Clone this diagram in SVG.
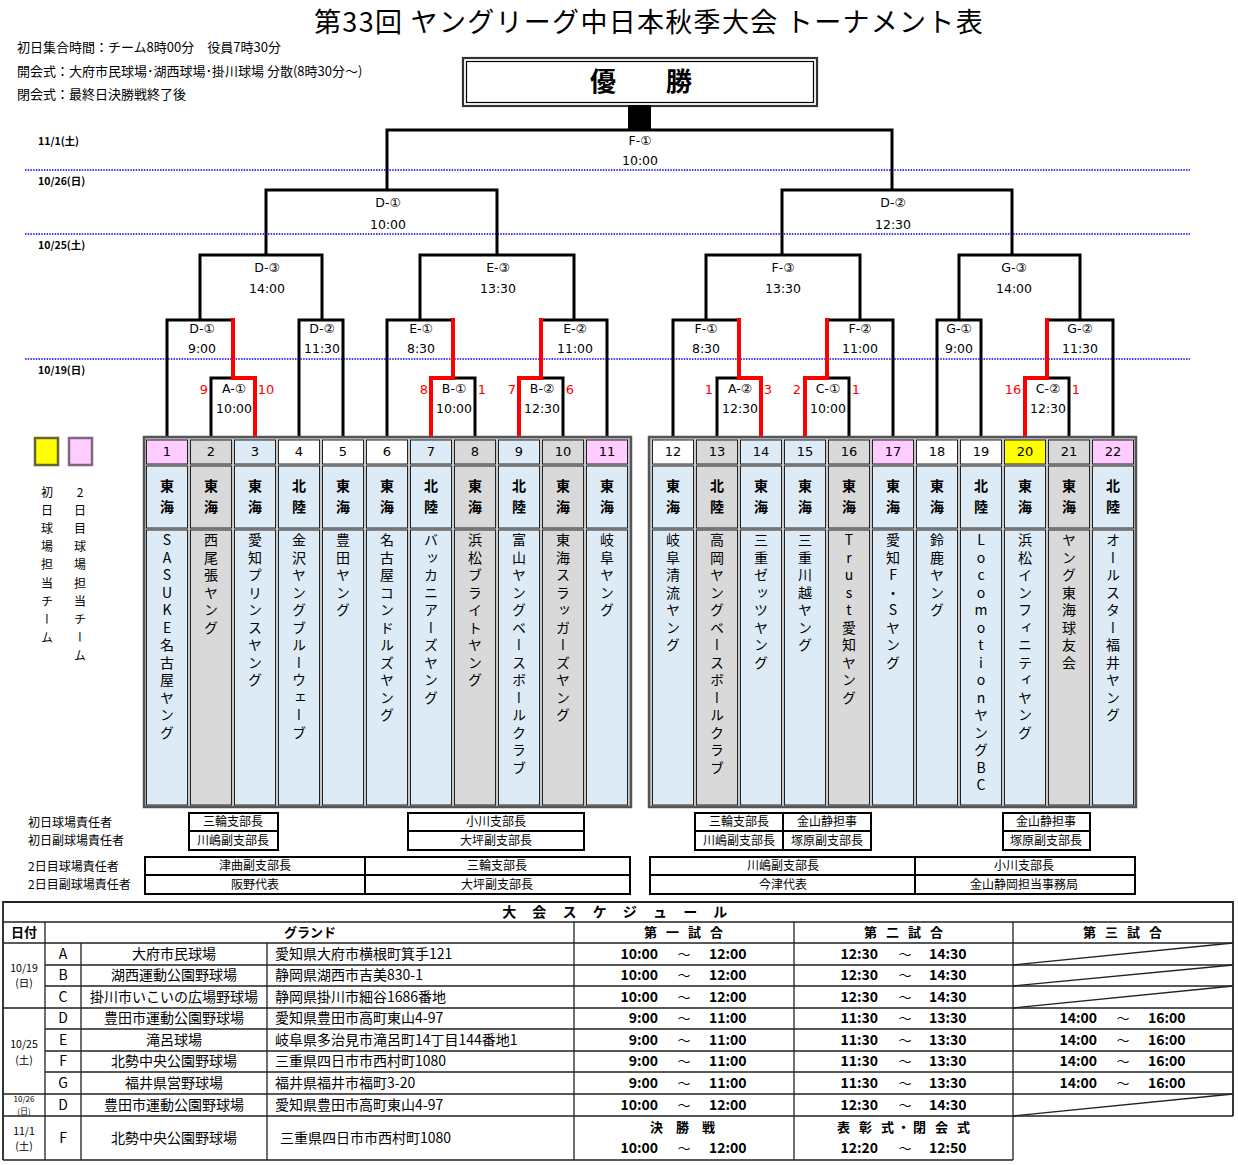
<svg xmlns="http://www.w3.org/2000/svg" width="1238" height="1165" viewBox="0 0 1238 1165">
<style>
text{font-family:"Noto Sans CJK JP","Noto Sans",sans-serif;fill:#000}
.ttl{font-size:27px;text-anchor:middle;letter-spacing:1.3px}
.hd{font-size:13px}
.dt{font-size:10.5px;font-weight:bold}
.lb{font-family:"DejaVu Sans","Noto Sans CJK JP",sans-serif;font-size:12.5px;text-anchor:middle}
.rn{font-family:"DejaVu Sans","Noto Sans CJK JP",sans-serif;font-size:13px;fill:#f00;text-anchor:middle}
.ln{fill:none;stroke:#000;stroke-width:3;stroke-linejoin:miter}
.rd{fill:none;stroke:#f00;stroke-width:4;stroke-linejoin:miter}
.dot{stroke:#00f;stroke-width:1.3;stroke-dasharray:1.5 1.2}
.frame{fill:#c8c8c8;stroke:#555;stroke-width:2.5}
.c{stroke:#222;stroke-width:1}
.lbc{fill:#ddebf7}.gy{fill:#d9d9d9}.wh{fill:#fff}.pk{fill:#ffccff}.ye{fill:#ffff00}
.num{font-family:"DejaVu Sans","Noto Sans CJK JP",sans-serif;font-size:13px;text-anchor:middle}
.rg{font-size:14px;font-weight:bold;text-anchor:middle}
.vt{font-size:14px;writing-mode:vertical-rl;text-orientation:upright;letter-spacing:3.5px}
.lg{font-size:12px;writing-mode:vertical-rl;text-orientation:upright;letter-spacing:6.2px}
.bx{fill:#fff;stroke:#000;stroke-width:2}
.rs{font-size:12px;text-anchor:middle}
.rl{font-size:12px}
.tb{fill:none;stroke:#222;stroke-width:1.3}
.tbo{fill:none;stroke:#222;stroke-width:1.8}
.sn{font-size:14px;text-anchor:middle}
.sa{font-size:14px}
.sh{font-size:13px;font-weight:bold;text-anchor:middle}
.tm{font-family:"DejaVu Sans",sans-serif;font-size:14px;font-weight:bold}
.tl{font-family:"Noto Sans CJK JP",sans-serif;font-size:13px;text-anchor:middle}
.sd{font-size:10.5px;text-anchor:middle}
</style>

<!-- header -->
<g id="header">
<text class="ttl" x="649" y="32">第33回 ヤングリーグ中日本秋季大会 トーナメント表</text>
<text class="hd" x="17" y="52">初日集合時間：チーム8時00分　役員7時30分</text>
<text class="hd" x="17" y="76">開会式：大府市民球場･湖西球場･掛川球場 分散(8時30分～)</text>
<text class="hd" x="17" y="99">閉会式：最終日決勝戦終了後</text>
</g>

<!-- date rows -->
<g id="dates">
<text class="dt" x="38" y="145">11/1(土)</text>
<text class="dt" x="38" y="185">10/26(日)</text>
<text class="dt" x="38" y="249">10/25(土)</text>
<text class="dt" x="38" y="374">10/19(日)</text>
<line class="dot" x1="25" y1="170" x2="1190" y2="170"/>
<line class="dot" x1="25" y1="234" x2="1190" y2="234"/>
<line class="dot" x1="25" y1="359" x2="1190" y2="359"/>
</g>

<!-- champion -->
<g id="champion">
<rect x="463" y="58" width="354" height="48" fill="#fff" stroke="#333" stroke-width="2.2"/>
<rect x="466.5" y="61.5" width="347" height="41" fill="none" stroke="#000" stroke-width="1.2"/>
<text x="603" y="91" font-size="26" font-weight="bold" text-anchor="middle">優</text>
<text x="679" y="91" font-size="26" font-weight="bold" text-anchor="middle">勝</text>
<rect x="628" y="105" width="23" height="25" fill="#000"/>
</g>

<!-- connectors -->
<g id="connectors">
<path class="ln" d="M387,190 V130 H892 V190"/>
<path class="ln" d="M266,255 V190 H497 V255"/>
<path class="ln" d="M782,255 V190 H1012 V255"/>
<path class="ln" d="M200,320 V255 H322 V320"/>
<path class="ln" d="M420,320 V255 H574 V320"/>
<path class="ln" d="M706,320 V255 H860 V320"/>
<path class="ln" d="M959,320 V255 H1080 V320"/>
<path class="ln" d="M167,437 V320 H233"/>
<path class="ln" d="M211,437 V378 H233"/>
<path class="ln" d="M299,437 V320 H343 V437"/>
<path class="ln" d="M387,437 V320 H453"/>
<path class="ln" d="M453,378 H475 V437"/>
<path class="ln" d="M541,320 H607 V437"/>
<path class="ln" d="M541,378 H563 V437"/>
<path class="ln" d="M673,437 V320 H739"/>
<path class="ln" d="M717,437 V378 H739"/>
<path class="ln" d="M827,320 H893 V437"/>
<path class="ln" d="M827,378 H849 V437"/>
<path class="ln" d="M937,437 V320 H981 V437"/>
<path class="ln" d="M1047,320 H1113 V437"/>
<path class="ln" d="M1047,378 H1069 V437"/>
<path class="rd" d="M233,318 V378 H255 V437"/>
<path class="rd" d="M453,318 V378 H431 V437"/>
<path class="rd" d="M541,318 V378 H519 V437"/>
<path class="rd" d="M739,318 V378 H761 V437"/>
<path class="rd" d="M827,318 V378 H805 V437"/>
<path class="rd" d="M1047,318 V378 H1025 V437"/>
</g>

<!-- match labels -->
<g id="m-F1"><text class="lb" x="640" y="145">F-①</text><text class="lb" x="640" y="165">10:00</text></g>
<g id="m-D1"><text class="lb" x="388" y="207">D-①</text><text class="lb" x="388" y="229">10:00</text></g>
<g id="m-D2"><text class="lb" x="893" y="207">D-②</text><text class="lb" x="893" y="229">12:30</text></g>
<g id="m-D3"><text class="lb" x="267" y="272">D-③</text><text class="lb" x="267" y="293">14:00</text></g>
<g id="m-E3"><text class="lb" x="498" y="272">E-③</text><text class="lb" x="498" y="293">13:30</text></g>
<g id="m-F3"><text class="lb" x="783" y="272">F-③</text><text class="lb" x="783" y="293">13:30</text></g>
<g id="m-G3"><text class="lb" x="1014" y="272">G-③</text><text class="lb" x="1014" y="293">14:00</text></g>
<g id="m-D1a"><text class="lb" x="202" y="333">D-①</text><text class="lb" x="202" y="353">9:00</text></g>
<g id="m-D2a"><text class="lb" x="322" y="333">D-②</text><text class="lb" x="322" y="353">11:30</text></g>
<g id="m-E1"><text class="lb" x="421" y="333">E-①</text><text class="lb" x="421" y="353">8:30</text></g>
<g id="m-E2"><text class="lb" x="575" y="333">E-②</text><text class="lb" x="575" y="353">11:00</text></g>
<g id="m-F1a"><text class="lb" x="706" y="333">F-①</text><text class="lb" x="706" y="353">8:30</text></g>
<g id="m-F2"><text class="lb" x="860" y="333">F-②</text><text class="lb" x="860" y="353">11:00</text></g>
<g id="m-G1"><text class="lb" x="959" y="333">G-①</text><text class="lb" x="959" y="353">9:00</text></g>
<g id="m-G2"><text class="lb" x="1080" y="333">G-②</text><text class="lb" x="1080" y="353">11:30</text></g>
<g id="m-A1"><text class="lb" x="234" y="393">A-①</text><text class="lb" x="234" y="413">10:00</text><text class="rn" x="204" y="394">9</text><text class="rn" x="266" y="394">10</text></g>
<g id="m-B1"><text class="lb" x="454" y="393">B-①</text><text class="lb" x="454" y="413">10:00</text><text class="rn" x="424" y="394">8</text><text class="rn" x="482" y="394">1</text></g>
<g id="m-B2"><text class="lb" x="542" y="393">B-②</text><text class="lb" x="542" y="413">12:30</text><text class="rn" x="512" y="394">7</text><text class="rn" x="570" y="394">6</text></g>
<g id="m-A2"><text class="lb" x="740" y="393">A-②</text><text class="lb" x="740" y="413">12:30</text><text class="rn" x="709" y="394">1</text><text class="rn" x="768" y="394">3</text></g>
<g id="m-C1"><text class="lb" x="828" y="393">C-①</text><text class="lb" x="828" y="413">10:00</text><text class="rn" x="797" y="394">2</text><text class="rn" x="856" y="394">1</text></g>
<g id="m-C2"><text class="lb" x="1048" y="393">C-②</text><text class="lb" x="1048" y="413">12:30</text><text class="rn" x="1013" y="394">16</text><text class="rn" x="1076" y="394">1</text></g>

<!-- legend -->
<g id="legend">
<rect x="35" y="438" width="23" height="27" class="ye" stroke="#666633" stroke-width="2.5"/>
<rect x="69" y="438" width="23" height="27" class="pk" stroke="#806680" stroke-width="2.5"/>
<text class="lg" x="47" y="486">初日球場担当チーム</text>
<text class="lg" x="80" y="486">2日目球場担当チーム</text>
</g>

<!-- team frames -->
<rect class="frame" x="144" y="437" width="487" height="370"/>
<rect class="frame" x="649" y="437" width="487" height="370"/>

<g id="t1"><rect class="c pk" x="146.5" y="440" width="41" height="24"/><rect class="c lbc" x="146.5" y="466" width="41" height="62"/><rect class="c lbc" x="146.5" y="530" width="41" height="275"/><text class="num" x="167" y="456">1</text><text class="rg" x="167" y="491">東</text><text class="rg" x="167" y="512">海</text><text class="vt" x="167" y="533">SASUKE名古屋ヤング</text></g>
<g id="t2"><rect class="c gy" x="190.5" y="440" width="41" height="24"/><rect class="c gy" x="190.5" y="466" width="41" height="62"/><rect class="c gy" x="190.5" y="530" width="41" height="275"/><text class="num" x="211" y="456">2</text><text class="rg" x="211" y="491">東</text><text class="rg" x="211" y="512">海</text><text class="vt" x="211" y="533">西尾張ヤング</text></g>
<g id="t3"><rect class="c lbc" x="234.5" y="440" width="41" height="24"/><rect class="c lbc" x="234.5" y="466" width="41" height="62"/><rect class="c lbc" x="234.5" y="530" width="41" height="275"/><text class="num" x="255" y="456">3</text><text class="rg" x="255" y="491">東</text><text class="rg" x="255" y="512">海</text><text class="vt" x="255" y="533">愛知プリンスヤング</text></g>
<g id="t4"><rect class="c wh" x="278.5" y="440" width="41" height="24"/><rect class="c lbc" x="278.5" y="466" width="41" height="62"/><rect class="c lbc" x="278.5" y="530" width="41" height="275"/><text class="num" x="299" y="456">4</text><text class="rg" x="299" y="491">北</text><text class="rg" x="299" y="512">陸</text><text class="vt" x="299" y="533">金沢ヤングブルーウェーブ</text></g>
<g id="t5"><rect class="c wh" x="322.5" y="440" width="41" height="24"/><rect class="c lbc" x="322.5" y="466" width="41" height="62"/><rect class="c lbc" x="322.5" y="530" width="41" height="275"/><text class="num" x="343" y="456">5</text><text class="rg" x="343" y="491">東</text><text class="rg" x="343" y="512">海</text><text class="vt" x="343" y="533">豊田ヤング</text></g>
<g id="t6"><rect class="c wh" x="366.5" y="440" width="41" height="24"/><rect class="c lbc" x="366.5" y="466" width="41" height="62"/><rect class="c lbc" x="366.5" y="530" width="41" height="275"/><text class="num" x="387" y="456">6</text><text class="rg" x="387" y="491">東</text><text class="rg" x="387" y="512">海</text><text class="vt" x="387" y="533">名古屋コンドルズヤング</text></g>
<g id="t7"><rect class="c lbc" x="410.5" y="440" width="41" height="24"/><rect class="c lbc" x="410.5" y="466" width="41" height="62"/><rect class="c lbc" x="410.5" y="530" width="41" height="275"/><text class="num" x="431" y="456">7</text><text class="rg" x="431" y="491">北</text><text class="rg" x="431" y="512">陸</text><text class="vt" x="431" y="533">バッカニアーズヤング</text></g>
<g id="t8"><rect class="c gy" x="454.5" y="440" width="41" height="24"/><rect class="c gy" x="454.5" y="466" width="41" height="62"/><rect class="c gy" x="454.5" y="530" width="41" height="275"/><text class="num" x="475" y="456">8</text><text class="rg" x="475" y="491">東</text><text class="rg" x="475" y="512">海</text><text class="vt" x="475" y="533">浜松ブライトヤング</text></g>
<g id="t9"><rect class="c lbc" x="498.5" y="440" width="41" height="24"/><rect class="c lbc" x="498.5" y="466" width="41" height="62"/><rect class="c lbc" x="498.5" y="530" width="41" height="275"/><text class="num" x="519" y="456">9</text><text class="rg" x="519" y="491">北</text><text class="rg" x="519" y="512">陸</text><text class="vt" x="519" y="533">富山ヤングベースボールクラブ</text></g>
<g id="t10"><rect class="c gy" x="542.5" y="440" width="41" height="24"/><rect class="c gy" x="542.5" y="466" width="41" height="62"/><rect class="c gy" x="542.5" y="530" width="41" height="275"/><text class="num" x="563" y="456">10</text><text class="rg" x="563" y="491">東</text><text class="rg" x="563" y="512">海</text><text class="vt" x="563" y="533">東海スラッガーズヤング</text></g>
<g id="t11"><rect class="c pk" x="586.5" y="440" width="41" height="24"/><rect class="c lbc" x="586.5" y="466" width="41" height="62"/><rect class="c lbc" x="586.5" y="530" width="41" height="275"/><text class="num" x="607" y="456">11</text><text class="rg" x="607" y="491">東</text><text class="rg" x="607" y="512">海</text><text class="vt" x="607" y="533">岐阜ヤング</text></g>

<g id="t12"><rect class="c wh" x="652.5" y="440" width="41" height="24"/><rect class="c lbc" x="652.5" y="466" width="41" height="62"/><rect class="c lbc" x="652.5" y="530" width="41" height="275"/><text class="num" x="673" y="456">12</text><text class="rg" x="673" y="491">東</text><text class="rg" x="673" y="512">海</text><text class="vt" x="673" y="533">岐阜清流ヤング</text></g>
<g id="t13"><rect class="c gy" x="696.5" y="440" width="41" height="24"/><rect class="c gy" x="696.5" y="466" width="41" height="62"/><rect class="c gy" x="696.5" y="530" width="41" height="275"/><text class="num" x="717" y="456">13</text><text class="rg" x="717" y="491">北</text><text class="rg" x="717" y="512">陸</text><text class="vt" x="717" y="533">高岡ヤングベースボールクラブ</text></g>
<g id="t14"><rect class="c lbc" x="740.5" y="440" width="41" height="24"/><rect class="c lbc" x="740.5" y="466" width="41" height="62"/><rect class="c lbc" x="740.5" y="530" width="41" height="275"/><text class="num" x="761" y="456">14</text><text class="rg" x="761" y="491">東</text><text class="rg" x="761" y="512">海</text><text class="vt" x="761" y="533">三重ゼッツヤング</text></g>
<g id="t15"><rect class="c lbc" x="784.5" y="440" width="41" height="24"/><rect class="c lbc" x="784.5" y="466" width="41" height="62"/><rect class="c lbc" x="784.5" y="530" width="41" height="275"/><text class="num" x="805" y="456">15</text><text class="rg" x="805" y="491">東</text><text class="rg" x="805" y="512">海</text><text class="vt" x="805" y="533">三重川越ヤング</text></g>
<g id="t16"><rect class="c gy" x="828.5" y="440" width="41" height="24"/><rect class="c gy" x="828.5" y="466" width="41" height="62"/><rect class="c gy" x="828.5" y="530" width="41" height="275"/><text class="num" x="849" y="456">16</text><text class="rg" x="849" y="491">東</text><text class="rg" x="849" y="512">海</text><text class="vt" x="849" y="533">Trust愛知ヤング</text></g>
<g id="t17"><rect class="c pk" x="872.5" y="440" width="41" height="24"/><rect class="c lbc" x="872.5" y="466" width="41" height="62"/><rect class="c lbc" x="872.5" y="530" width="41" height="275"/><text class="num" x="893" y="456">17</text><text class="rg" x="893" y="491">東</text><text class="rg" x="893" y="512">海</text><text class="vt" x="893" y="533">愛知F・Sヤング</text></g>
<g id="t18"><rect class="c wh" x="916.5" y="440" width="41" height="24"/><rect class="c lbc" x="916.5" y="466" width="41" height="62"/><rect class="c lbc" x="916.5" y="530" width="41" height="275"/><text class="num" x="937" y="456">18</text><text class="rg" x="937" y="491">東</text><text class="rg" x="937" y="512">海</text><text class="vt" x="937" y="533">鈴鹿ヤング</text></g>
<g id="t19"><rect class="c wh" x="960.5" y="440" width="41" height="24"/><rect class="c lbc" x="960.5" y="466" width="41" height="62"/><rect class="c lbc" x="960.5" y="530" width="41" height="275"/><text class="num" x="981" y="456">19</text><text class="rg" x="981" y="491">北</text><text class="rg" x="981" y="512">陸</text><text class="vt" x="981" y="533">LocomotionヤングBC</text></g>
<g id="t20"><rect class="c ye" x="1004.5" y="440" width="41" height="24"/><rect class="c lbc" x="1004.5" y="466" width="41" height="62"/><rect class="c lbc" x="1004.5" y="530" width="41" height="275"/><text class="num" x="1025" y="456">20</text><text class="rg" x="1025" y="491">東</text><text class="rg" x="1025" y="512">海</text><text class="vt" x="1025" y="533">浜松インフィニティヤング</text></g>
<g id="t21"><rect class="c gy" x="1048.5" y="440" width="41" height="24"/><rect class="c gy" x="1048.5" y="466" width="41" height="62"/><rect class="c gy" x="1048.5" y="530" width="41" height="275"/><text class="num" x="1069" y="456">21</text><text class="rg" x="1069" y="491">東</text><text class="rg" x="1069" y="512">海</text><text class="vt" x="1069" y="533">ヤング東海球友会</text></g>
<g id="t22"><rect class="c pk" x="1092.5" y="440" width="41" height="24"/><rect class="c lbc" x="1092.5" y="466" width="41" height="62"/><rect class="c lbc" x="1092.5" y="530" width="41" height="275"/><text class="num" x="1113" y="456">22</text><text class="rg" x="1113" y="491">北</text><text class="rg" x="1113" y="512">陸</text><text class="vt" x="1113" y="533">オールスター福井ヤング</text></g>

<!-- responsibility -->
<g id="resp-labels">
<text class="rl" x="28" y="827">初日球場責任者</text>
<text class="rl" x="28" y="845">初日副球場責任者</text>
<text class="rl" x="28" y="871">2日目球場責任者</text>
<text class="rl" x="28" y="889">2日目副球場責任者</text>
</g>
<g id="resp-1">
<rect class="bx" x="189" y="813" width="89" height="18"/><rect class="bx" x="189" y="831" width="89" height="19"/>
<text class="rs" x="233" y="826">三輪支部長</text><text class="rs" x="233" y="845">川嶋副支部長</text>
</g>
<g id="resp-2">
<rect class="bx" x="408" y="813" width="176" height="18"/><rect class="bx" x="408" y="831" width="176" height="19"/>
<text class="rs" x="496" y="826">小川支部長</text><text class="rs" x="496" y="845">大坪副支部長</text>
</g>
<g id="resp-3">
<rect class="bx" x="145" y="857" width="220" height="18"/><rect class="bx" x="365" y="857" width="265" height="18"/>
<rect class="bx" x="145" y="875" width="220" height="19"/><rect class="bx" x="365" y="875" width="265" height="19"/>
<text class="rs" x="255" y="870">津曲副支部長</text><text class="rs" x="497" y="870">三輪支部長</text>
<text class="rs" x="255" y="889">阪野代表</text><text class="rs" x="497" y="889">大坪副支部長</text>
</g>
<g id="resp-4">
<rect class="bx" x="695" y="813" width="88" height="18"/><rect class="bx" x="783" y="813" width="88" height="18"/>
<rect class="bx" x="695" y="831" width="88" height="19"/><rect class="bx" x="783" y="831" width="88" height="19"/>
<text class="rs" x="739" y="826">三輪支部長</text><text class="rs" x="827" y="826">金山静担事</text>
<text class="rs" x="739" y="845">川嶋副支部長</text><text class="rs" x="827" y="845">塚原副支部長</text>
</g>
<g id="resp-5">
<rect class="bx" x="1003" y="813" width="87" height="18"/><rect class="bx" x="1003" y="831" width="87" height="19"/>
<text class="rs" x="1046" y="826">金山静担事</text><text class="rs" x="1046" y="845">塚原副支部長</text>
</g>
<g id="resp-6">
<rect class="bx" x="650" y="857" width="265" height="18"/><rect class="bx" x="915" y="857" width="220" height="18"/>
<rect class="bx" x="650" y="875" width="265" height="19"/><rect class="bx" x="915" y="875" width="220" height="19"/>
<text class="rs" x="783" y="870">川嶋副支部長</text><text class="rs" x="1024" y="870">小川支部長</text>
<text class="rs" x="783" y="889">今津代表</text><text class="rs" x="1024" y="889">金山静岡担当事務局</text>
</g>

<!-- schedule table -->
<g id="schedule">
<path class="tb" d="M3,922 H1233 M3,943 H1233 M45,965 H1233 M45,986 H1233 M3,1008 H1233 M45,1029 H1233 M45,1051 H1233 M45,1072 H1233 M3,1094 H1233 M3,1116 H1233 M3,1160 H1013"/>
<path class="tb" d="M45,922 V1160 M81,943 V1160 M267,943 V1160 M574,922 V1160 M794,922 V1160 M1013,922 V1160"/>
<path class="tbo" d="M1233,1116 V902 H3 V1160"/>
<path class="tb" d="M1013,965 L1233,943 M1013,986 L1233,965 M1013,1008 L1233,986 M1013,1116 L1233,1094"/>
<text x="618" y="917" font-size="14" font-weight="bold" text-anchor="middle" letter-spacing="6.5">大 会 ス ケ ジ ュ ー ル</text>
<text class="sh" x="24" y="937">日付</text>
<text class="sh" x="310" y="937">グランド</text>
<text class="sh" x="685" y="937" letter-spacing="3">第 一 試 合</text>
<text class="sh" x="905" y="937" letter-spacing="3">第 二 試 合</text>
<text class="sh" x="1124" y="937" letter-spacing="3">第 三 試 合</text>

<text class="sd" x="24" y="972">10/19</text><text class="sd" x="24" y="987">(日)</text>
<text class="sd" x="24" y="1048">10/25</text><text class="sd" x="24" y="1064">(土)</text>
<text x="24" y="1102" font-size="8" text-anchor="middle">10/26</text><text x="24" y="1114" font-size="8" text-anchor="middle">(日)</text>
<text class="sd" x="24" y="1135">11/1</text><text class="sd" x="24" y="1150">(土)</text>

<text class="sn" x="63" y="959">A</text><text class="sn" x="174" y="959">大府市民球場</text><text class="sa" x="275" y="959">愛知県大府市横根町箕手121</text>
<text class="sn" x="63" y="980">B</text><text class="sn" x="174" y="980">湖西運動公園野球場</text><text class="sa" x="275" y="980">静岡県湖西市吉美830-1</text>
<text class="sn" x="63" y="1002">C</text><text class="sn" x="174" y="1002">掛川市いこいの広場野球場</text><text class="sa" x="275" y="1002">静岡県掛川市細谷1686番地</text>
<text class="sn" x="63" y="1023">D</text><text class="sn" x="174" y="1023">豊田市運動公園野球場</text><text class="sa" x="275" y="1023">愛知県豊田市高町東山4-97</text>
<text class="sn" x="63" y="1045">E</text><text class="sn" x="174" y="1045">滝呂球場</text><text class="sa" x="275" y="1045">岐阜県多治見市滝呂町14丁目144番地1</text>
<text class="sn" x="63" y="1066">F</text><text class="sn" x="174" y="1066">北勢中央公園野球場</text><text class="sa" x="275" y="1066">三重県四日市市西村町1080</text>
<text class="sn" x="63" y="1088">G</text><text class="sn" x="174" y="1088">福井県営野球場</text><text class="sa" x="275" y="1088">福井県福井市福町3-20</text>
<text class="sn" x="63" y="1110">D</text><text class="sn" x="174" y="1110">豊田市運動公園野球場</text><text class="sa" x="275" y="1110">愛知県豊田市高町東山4-97</text>
<text class="sn" x="63" y="1143">F</text><text class="sn" x="174" y="1143">北勢中央公園野球場</text><text class="sa" x="280" y="1143">三重県四日市市西村町1080</text>

<g class="tm">
<text x="658" y="959" text-anchor="end">10:00</text><text x="709" y="959">12:00</text>
<text x="658" y="980" text-anchor="end">10:00</text><text x="709" y="980">12:00</text>
<text x="658" y="1002" text-anchor="end">10:00</text><text x="709" y="1002">12:00</text>
<text x="658" y="1023" text-anchor="end">9:00</text><text x="709" y="1023">11:00</text>
<text x="658" y="1045" text-anchor="end">9:00</text><text x="709" y="1045">11:00</text>
<text x="658" y="1066" text-anchor="end">9:00</text><text x="709" y="1066">11:00</text>
<text x="658" y="1088" text-anchor="end">9:00</text><text x="709" y="1088">11:00</text>
<text x="658" y="1110" text-anchor="end">10:00</text><text x="709" y="1110">12:00</text>
<text x="658" y="1153" text-anchor="end">10:00</text><text x="709" y="1153">12:00</text>
<text x="878" y="959" text-anchor="end">12:30</text><text x="929" y="959">14:30</text>
<text x="878" y="980" text-anchor="end">12:30</text><text x="929" y="980">14:30</text>
<text x="878" y="1002" text-anchor="end">12:30</text><text x="929" y="1002">14:30</text>
<text x="878" y="1023" text-anchor="end">11:30</text><text x="929" y="1023">13:30</text>
<text x="878" y="1045" text-anchor="end">11:30</text><text x="929" y="1045">13:30</text>
<text x="878" y="1066" text-anchor="end">11:30</text><text x="929" y="1066">13:30</text>
<text x="878" y="1088" text-anchor="end">11:30</text><text x="929" y="1088">13:30</text>
<text x="878" y="1110" text-anchor="end">12:30</text><text x="929" y="1110">14:30</text>
<text x="878" y="1153" text-anchor="end">12:20</text><text x="929" y="1153">12:50</text>
<text x="1097" y="1023" text-anchor="end">14:00</text><text x="1148" y="1023">16:00</text>
<text x="1097" y="1045" text-anchor="end">14:00</text><text x="1148" y="1045">16:00</text>
<text x="1097" y="1066" text-anchor="end">14:00</text><text x="1148" y="1066">16:00</text>
<text x="1097" y="1088" text-anchor="end">14:00</text><text x="1148" y="1088">16:00</text>
</g>
<g class="tl">
<text x="684" y="959">～</text><text x="684" y="980">～</text><text x="684" y="1002">～</text><text x="684" y="1023">～</text><text x="684" y="1045">～</text><text x="684" y="1066">～</text><text x="684" y="1088">～</text><text x="684" y="1110">～</text><text x="684" y="1153">～</text>
<text x="905" y="959">～</text><text x="905" y="980">～</text><text x="905" y="1002">～</text><text x="905" y="1023">～</text><text x="905" y="1045">～</text><text x="905" y="1066">～</text><text x="905" y="1088">～</text><text x="905" y="1110">～</text><text x="905" y="1153">～</text>
<text x="1123" y="1023">～</text><text x="1123" y="1045">～</text><text x="1123" y="1066">～</text><text x="1123" y="1088">～</text>
</g>
<text class="sh" x="685" y="1132" letter-spacing="5">決 勝 戦</text>
<text class="sh" x="905" y="1132" letter-spacing="3">表 彰 式・閉 会 式</text>
</g>
</svg>
